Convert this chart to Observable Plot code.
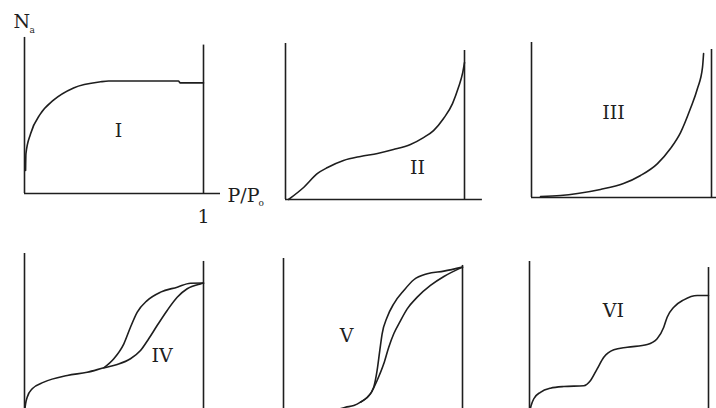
<!DOCTYPE html>
<html><head><meta charset="utf-8">
<script src="https://cdn.jsdelivr.net/npm/d3@7"></script>
<script src="https://cdn.jsdelivr.net/npm/@observablehq/plot@0.6"></script>
<style>
html,body{margin:0;padding:0;background:#fff;overflow:hidden}
#chart{position:relative;width:716px;height:408px;overflow:hidden;background:#fff}
#chart svg{position:absolute;left:0;top:0}
</style></head><body><div id="chart"></div>
<script>
// ---- data (x = P/P0, y = amount adsorbed Na, arbitrary 0..100 units) ----
const numerals = ["I", "II", "III", "IV", "V", "VI"];
const xAxisLabel = "P/P";
const xAxisSub = "o";
const yAxisLabel = "N";
const yAxisSub = "a";
const xTickLabel = "1";

const typeI_x = [0.006, 0.008, 0.034, 0.089, 0.162, 0.274, 0.425, 0.47, 0.6, 0.86, 0.87, 1.0];
const typeI_y = [15, 26, 39, 52, 61, 69, 73, 73.5, 73.5, 73.5, 72.3, 72.3];

const typeII_x = [0.017, 0.101, 0.179, 0.235, 0.324, 0.419, 0.514, 0.603, 0.698, 0.771, 0.827, 0.883, 0.933, 0.966, 0.989, 1.0];
const typeII_y = [0, 7.7, 16.7, 20.5, 25, 27.6, 29.5, 32, 35.3, 39.7, 44.2, 51.9, 61.5, 71.8, 80.8, 87.8];

const typeIII_x = [0.05, 0.161, 0.256, 0.383, 0.511, 0.606, 0.7, 0.772, 0.828, 0.883, 0.922, 0.95, 0.956];
const typeIII_y = [0.6, 1.3, 2.6, 5.2, 9.0, 14.2, 21.9, 31.6, 41.9, 57.4, 70.3, 83.9, 92.9];

const typeIV_ads_x = [0, 0.006, 0.015, 0.043, 0.108, 0.239, 0.35, 0.443, 0.518, 0.592, 0.648, 0.694, 0.741, 0.797, 0.853, 0.909, 0.983, 1.0];
const typeIV_ads_y = [0, 5.5, 9.6, 14.9, 19.1, 23.3, 25.3, 28.1, 30.2, 33.8, 39, 46.4, 54.7, 64.2, 72.5, 77.8, 80.9, 81.4];
const typeIV_des_x = [0.443, 0.499, 0.555, 0.592, 0.63, 0.685, 0.76, 0.853, 0.927, 1.0];
const typeIV_des_y = [28.1, 33.8, 43.2, 53.6, 63.1, 70.4, 75.7, 78.8, 81.3, 81.4];

const typeV_ads_x = [0.28, 0.346, 0.393, 0.43, 0.486, 0.523, 0.56, 0.588, 0.616, 0.654, 0.691, 0.747, 0.821, 0.896, 1.0];
const typeV_ads_y = [1.0, 3.4, 4.5, 6.7, 12.1, 20.8, 31.6, 42.4, 51.1, 59.7, 67.3, 74.9, 82.5, 88.3, 94.4];
const typeV_des_x = [0.43, 0.468, 0.504, 0.523, 0.538, 0.551, 0.579, 0.616, 0.672, 0.728, 0.803, 0.896, 1.0];
const typeV_des_y = [6.7, 9.9, 16.4, 27.3, 40.3, 51.1, 61.9, 70.6, 79.2, 86.2, 90.1, 91.8, 94.4];

const typeVI_x = [0, 0.009, 0.024, 0.061, 0.117, 0.192, 0.303, 0.341, 0.378, 0.415, 0.471, 0.546, 0.658, 0.713, 0.75, 0.769, 0.806, 0.862, 0.937, 1.0];
const typeVI_y = [0, 4.6, 9.1, 13.4, 16.1, 17.2, 17.7, 21.2, 28.9, 36.6, 41.5, 43.2, 45, 48.8, 56.5, 63.1, 69.7, 74.6, 77.5, 77.5];

// ---- layout (panel frames in page pixels) ----
const W = 716, SVGH = 440;
const INK = "#1e1e1e";
const panels = [
  {name: numerals[0], L: 24,  R: 203, T: 40,  B: 193, leftTop: 102, rightTop: 97,   axisEnd: 1.095, lx: 0.525, ly: 41,
   curves: [[typeI_x, typeI_y]]},
  {name: numerals[1], L: 285, R: 464, T: 43,  B: 199, leftTop: 100, rightTop: 95.5, axisEnd: 1.10, lx: 0.737, ly: 20.5,
   curves: [[typeII_x, typeII_y]]},
  {name: numerals[2], L: 531, R: 711, T: 42,  B: 197, leftTop: 100, rightTop: 95.5, axisEnd: 1.06, lx: 0.456, ly: 54.8,
   curves: [[typeIII_x, typeIII_y]]},
  {name: numerals[3], L: 24,  R: 203, T: 253, B: 412, leftTop: 100, rightTop: 95,   axisEnd: 1.10, lx: 0.769, ly: 35.8,
   curves: [[typeIV_ads_x, typeIV_ads_y], [typeIV_des_x, typeIV_des_y]]},
  {name: numerals[4], L: 283, R: 462, T: 258, B: 412, leftTop: 100, rightTop: 95.5, axisEnd: 1.10, lx: 0.352, ly: 50,
   curves: [[typeV_ads_x, typeV_ads_y], [typeV_des_x, typeV_des_y]]},
  {name: numerals[5], L: 529, R: 708, T: 261, B: 412, leftTop: 100, rightTop: 96,   axisEnd: 1.06, lx: 0.469, ly: 67.5,
   curves: [[typeVI_x, typeVI_y]]}
];

const chart = document.getElementById("chart");
const font = "DejaVu Serif";
const FS = 19;

panels.forEach((p, i) => {
  const marks = [
    Plot.ruleX([0], {y1: 0, y2: p.leftTop, stroke: INK, strokeWidth: 1.6}),
    Plot.ruleX([1], {y1: 0, y2: p.rightTop, stroke: INK, strokeWidth: 1.6}),
    Plot.ruleY([0], {x1: 0, x2: p.axisEnd, stroke: INK, strokeWidth: 1.6}),
    ...p.curves.map(([xs, ys]) =>
      Plot.line(xs.map((x, k) => ({x, y: ys[k]})), {x: "x", y: "y", curve: "monotone-x", stroke: INK, strokeWidth: 1.6})),
    Plot.text([p.name], {x: p.lx, y: p.ly, text: d => d, fontSize: FS, fill: INK, fontFamily: font})
  ];
  if (i === 0) {
    marks.push(
      Plot.text([xTickLabel], {x: 1, y: -15.4, text: d => d, fontSize: FS, fill: INK, fontFamily: font}),
      Plot.text([xAxisLabel], {x: 1.134, y: -1.3, text: d => d, fontSize: FS, textAnchor: "start", fill: INK, fontFamily: font}),
      Plot.text([xAxisSub], {x: 1.307, y: -6.5, text: d => d, fontSize: 9, textAnchor: "start", fill: INK, fontFamily: font}),
      Plot.text([yAxisLabel], {x: -0.061, y: 112, text: d => d, fontSize: FS, textAnchor: "start", fill: INK, fontFamily: font}),
      Plot.text([yAxisSub], {x: 0.028, y: 106.5, text: d => d, fontSize: 9, textAnchor: "start", fill: INK, fontFamily: font})
    );
  }
  const svg = Plot.plot({
    width: W, height: SVGH,
    marginLeft: p.L, marginRight: W - p.R, marginTop: p.T, marginBottom: SVGH - p.B,
    x: {domain: [0, 1], axis: null},
    y: {domain: [0, 100], axis: null},
    style: {background: "transparent", overflow: "visible", fontFamily: font, maxWidth: "none"},
    marks
  });
  chart.appendChild(svg);
});
</script>
</body></html>
